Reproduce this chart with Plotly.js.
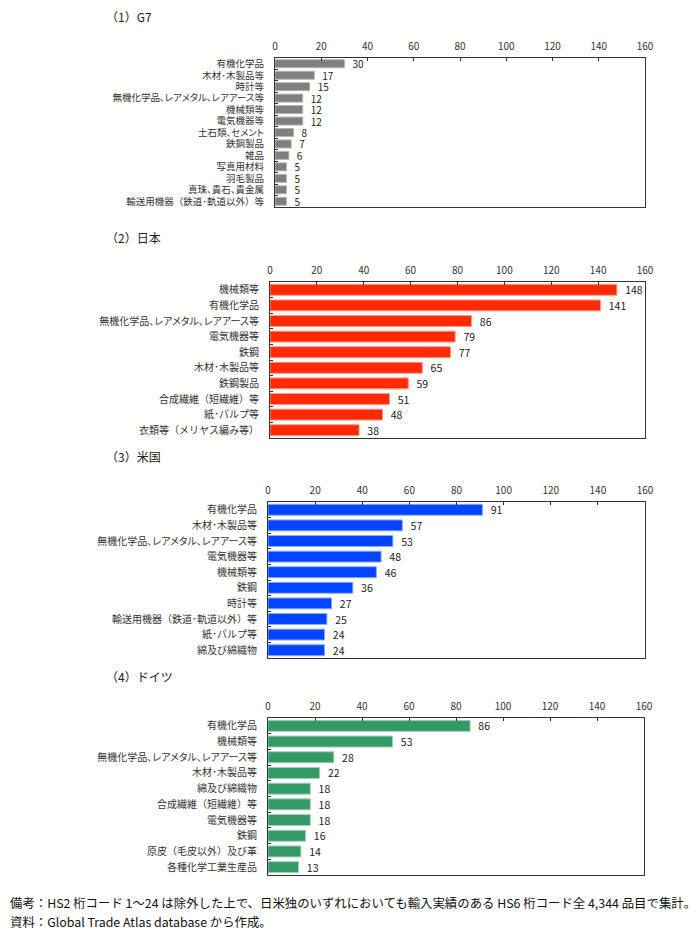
<!DOCTYPE html>
<html><head><meta charset="utf-8">
<script src="https://cdn.plot.ly/plotly-3.0.1.min.js"></script>
<style>html,body{margin:0;padding:0;background:#fff}</style>
</head><body><div id="chart" style="width:696px;height:939px"></div>
<script>
var g7Cats = ["有機化学品","木材･木製品等","時計等","無機化学品、レアメタル、レアアース等","機械類等","電気機器等","土石類、セメント","鉄鋼製品","雑品","写真用材料","羽毛製品","真珠、貴石、貴金属","輸送用機器（鉄道･軌道以外）等"];
var g7Vals = [30,17,15,12,12,12,8,7,6,5,5,5,5];
var jpCats = ["機械類等","有機化学品","無機化学品、レアメタル、レアアース等","電気機器等","鉄鋼","木材･木製品等","鉄鋼製品","合成繊維（短繊維）等","紙･パルプ等","衣類等（メリヤス編み等）"];
var jpVals = [148,141,86,79,77,65,59,51,48,38];
var usCats = ["有機化学品","木材･木製品等","無機化学品、レアメタル、レアアース等","電気機器等","機械類等","鉄鋼","時計等","輸送用機器（鉄道･軌道以外）等","紙･パルプ等","綿及び綿織物"];
var usVals = [91,57,53,48,46,36,27,25,24,24];
var deCats = ["有機化学品","機械類等","無機化学品、レアメタル、レアアース等","木材･木製品等","綿及び綿織物","合成繊維（短繊維）等","電気機器等","鉄鋼","原皮（毛皮以外）及び革","各種化学工業生産品"];
var deVals = [86,53,28,22,18,18,18,16,14,13];
var panelTitles = ["（1）G7","（2）日本","（3）米国","（4）ドイツ"];
var xTicks = [0,20,40,60,80,100,120,140,160];
var notes = ["備考：HS2 桁コード 1～24 は除外した上で、日米独のいずれにおいても輸入実績のある HS6 桁コード全 4,344 品目で集計。","資料：Global Trade Atlas database から作成。"];

var W=696,H=939;
var FONT='"Noto Sans CJK JP", "Noto Sans", sans-serif';
function fmt(c){
  return c.indexOf('、')>=0 ? '<span style="font-feature-settings:\'palt\' 1">'+c+'</span>' : c;
}
var panels = [
  {cats:g7Cats, vals:g7Vals, color:'#7f7f7f', line:'#b5b5b5', x0:275, x1:645, y0:58, y1:207, title:panelTitles[0], ty:16, fs:9.5},
  {cats:jpCats, vals:jpVals, color:'#ff2a00', line:'#ff9a8a', x0:270, x1:645, y0:282, y1:438, title:panelTitles[1], ty:237, fs:10},
  {cats:usCats, vals:usVals, color:'#0044ff', line:'#8fa8ff', x0:268, x1:645, y0:502, y1:658, title:panelTitles[2], ty:456, fs:10},
  {cats:deCats, vals:deVals, color:'#339966', line:'#9fd0b3', x0:268, x1:644, y0:718, y1:875, title:panelTitles[3], ty:676, fs:10}
];
var data=[], layout={width:W,height:H,margin:{l:0,r:0,t:0,b:0},showlegend:false,bargap:0.3,
  uniformtext:{mode:'show',minsize:9},
  paper_bgcolor:'#fff',plot_bgcolor:'#fff',font:{family:FONT,size:10,color:'#222'},annotations:[]};
panels.forEach(function(p,i){
  var n=i===0?'':String(i+1);
  data.push({type:'bar',orientation:'h',x:p.vals,y:p.cats.map(fmt),xaxis:'x'+n,yaxis:'y'+n,
    marker:{color:p.color,line:{color:p.line,width:1}},
    text:p.vals.map(function(v){return '\u2002'+v;}),textposition:'outside',cliponaxis:false,constraintext:'none',
    textfont:{size:p.fs+0.5,color:'#222',family:FONT},hoverinfo:'none'});
  layout['xaxis'+n]={domain:[p.x0/W,p.x1/W],anchor:'y'+n,side:'top',range:[0,160],
    tickvals:xTicks,ticks:'inside',ticklen:3,tickcolor:'#333',showgrid:false,zeroline:false,
    showline:true,linecolor:'#333',linewidth:1,mirror:true,tickfont:{size:10,color:'#333'},ticklabelstandoff:3,fixedrange:true};
  layout['yaxis'+n]={domain:[1-p.y1/H,1-p.y0/H],anchor:'x'+n,type:'category',autorange:'reversed',
    tickmode:'linear',tick0:0,dtick:1,
    ticks:'inside',ticklen:3,tickcolor:'#333',tickson:'boundaries',showgrid:false,
    showline:true,linecolor:'#333',linewidth:1,mirror:true,tickfont:{size:p.fs,color:'#333'},ticklabelstandoff:8,fixedrange:true};
  layout.annotations.push({xref:'paper',yref:'paper',x:104/W,y:1-p.ty/H,xanchor:'left',yanchor:'middle',
    text:p.title,showarrow:false,font:{size:12,color:'#222',family:FONT}});
});
layout.annotations.push({xref:'paper',yref:'paper',x:8/W,y:1-903/H,xanchor:'left',yanchor:'middle',text:notes[0],showarrow:false,font:{size:12.4,color:'#111',family:FONT}});
layout.annotations.push({xref:'paper',yref:'paper',x:8/W,y:1-922/H,xanchor:'left',yanchor:'middle',text:notes[1],showarrow:false,font:{size:12.4,color:'#111',family:FONT}});
Plotly.newPlot('chart',data,layout,{staticPlot:true});
</script></body></html>
